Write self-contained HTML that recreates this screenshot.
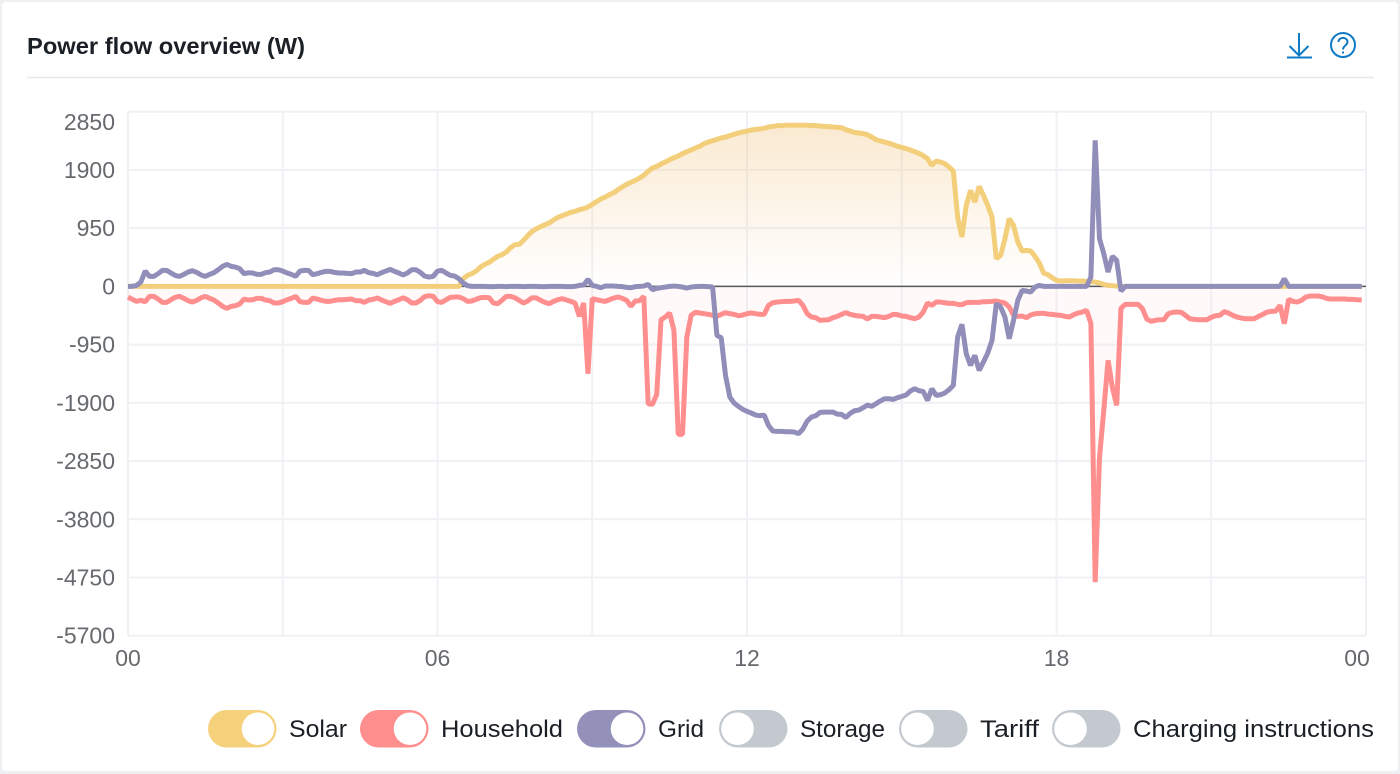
<!DOCTYPE html>
<html lang="en">
<head>
<meta charset="utf-8">
<title>Power flow overview (W)</title>
<style>
html,body{margin:0;padding:0;width:1400px;height:774px;background:#eef0f2;overflow:hidden;font-family:"Liberation Sans",sans-serif;}
#card{position:absolute;left:2px;top:2px;width:1396px;height:769px;background:#fff;border-radius:4px;}
svg{position:absolute;left:0;top:0;}
</style>
</head>
<body>
<div id="card"></div>
<svg id="chart" width="1400" height="774" viewBox="0 0 1400 774">
  <defs>
    <linearGradient id="solarFill" gradientUnits="userSpaceOnUse" x1="0" y1="125" x2="0" y2="286">
      <stop offset="0" stop-color="#f0c078" stop-opacity="0.34"/>
      <stop offset="1" stop-color="#f0c078" stop-opacity="0"/>
    </linearGradient>
    <linearGradient id="householdFill" gradientUnits="userSpaceOnUse" x1="0" y1="286" x2="0" y2="520">
      <stop offset="0" stop-color="#ff8c8c" stop-opacity="0.05"/>
      <stop offset="0.35" stop-color="#ff8c8c" stop-opacity="0.05"/>
      <stop offset="1" stop-color="#ff8c8c" stop-opacity="0"/>
    </linearGradient>
  </defs>
  <text x="27" y="54" font-size="23" font-weight="700" fill="#1b2026" textLength="278" lengthAdjust="spacingAndGlyphs" font-family="Liberation Sans, sans-serif">Power flow overview (W)</text>
  <line x1="27" y1="77.5" x2="1374" y2="77.5" stroke="#e6e8ea" stroke-width="1.5"/>
  <g fill="none" stroke="#0f7ac6" stroke-width="2">
    <path d="M1299 33V55M1289.5 46L1299 55.5L1308.500 46"/>
    <path d="M1287 57.500H1312"/>
  </g>
  <g fill="none" stroke="#0f7ac6" stroke-width="2">
    <circle cx="1343" cy="45" r="12"/>
    <path d="M1338.500 42C1338.500 36.500 1347.500 36.500 1347.500 42C1347.500 45.500 1343 45.500 1343 49.500"/>
    <path d="M1343 51.500V53.500"/>
  </g>
  <g id="grid-layer"></g>
  <g id="axis-layer" font-family="Liberation Sans, sans-serif"></g>
  <g id="series-layer"></g>
  <g id="legend-layer" font-family="Liberation Sans, sans-serif"></g>
</svg>
<script>
const yTickValues = [2850, 1900, 950, 0, -950, -1900, -2850, -3800, -4750, -5700];
const xGridHours = [0, 3, 6, 9, 12, 15, 18, 21, 24];
const xTickHours = [0, 6, 12, 18, 24];
const xTickLabels = ['00', '06', '12', '18', '00'];

const solarValues = [
0,0,0,0,0,0,0,0,0,0, 0,0,0,0,0,0,0,0,0,0,
0,0,0,0,0,0,0,0,0,0, 0,0,0,0,0,0,0,0,0,0,
0,0,0,0,0,0,0,0,0,0, 0,0,0,0,0,0,0,0,0,0,
0,0,0,0,0,0,0,0,0,0, 0,0,0,0,0,0,0,0,125,180,
207,250,315,359,392,441,490,517,560,631,
680,685,751,827,898,941,974,1006,1034,1083,
1126,1153,1180,1208,1224,1251,1268,1295,1338,1382,
1425,1458,1496,1529,1578,1621,1665,1697,1730,1768,
1812,1877,1931,1958,1996,2029,2067,2100,2127,2165,
2198,2225,2258,2285,2328,2355,2377,2399,2421,2437,
2459,2481,2503,2519,2535,2551,2562,2568,2579,2600,
2611,2622,2622,2628,2628,2628,2628,2628,2628,2622,
2622,2617,2611,2606,2600,2595,2589,2557,2535,2513,
2502,2492,2475,2437,2394,2372,2355,2334,2312,2285,
2268,2247,2225,2198,2170,2132,2083,1975,2045,2029,
2002,1948,1882,1132,805,1322,1567,1376,1632,1485,
1322,1132,452,506,778,1104,996,724,577,587,
577,490,381,218,190,141,98,87,92,92,
92,87,87,82,76,71,54,33,16,11,
5,0,0,0,0,0,0,0,0,0,
0,0,0,0,0,0,0,0,0,0, 0,0,0,0,0,0,0,0,0,0,
0,0,0,0,0,0,0,0,0,0, 0,0,0,0,0,0,0,0,0,0,
0,0,0,0,0,0,0,0
];

const householdValues = [
-174,-212,-245,-228,-250,-163,-163,-207,-261,-261,
-218,-179,-163,-196,-234,-256,-228,-185,-163,-196,
-223,-272,-326,-359,-326,-315,-288,-207,-223,-218,
-196,-196,-223,-234,-272,-272,-250,-218,-196,-163,
-250,-261,-261,-190,-207,-228,-245,-245,-228,-218,
-218,-212,-207,-234,-234,-261,-223,-212,-190,-223,
-250,-277,-245,-218,-185,-218,-272,-272,-228,-168,
-152,-163,-250,-261,-218,-179,-174,-174,-201,-245,
-239,-212,-185,-180,-185,-272,-283,-228,-163,-163,
-185,-228,-272,-239,-185,-190,-228,-261,-283,-245,
-218,-201,-223,-245,-272,-490,-272,-1425,-201,-218,
-234,-245,-218,-190,-174,-196,-228,-326,-239,-234,
-163,-1915,-1926,-1763,-544,-500,-435,-718,-2415,-2415,
-827,-473,-424,-435,-446,-457,-473,-490,-457,-430,
-446,-457,-479,-468,-446,-435,-446,-457,-457,-310,
-267,-256,-250,-245,-245,-239,-228,-310,-446,-500,
-511,-555,-549,-544,-511,-490,-457,-430,-457,-473,
-484,-490,-533,-490,-490,-500,-511,-490,-457,-462,
-484,-490,-511,-528,-500,-419,-272,-310,-256,-256,
-267,-277,-277,-294,-299,-267,-261,-261,-261,-250,
-250,-245,-239,-256,-272,-337,-473,-490,-484,-511,
-468,-446,-441,-441,-452,-457,-468,-473,-490,-500,
-462,-435,-419,-392,-604,-4826,-2790,-2024,-1208,-1648,
-1942,-359,-294,-294,-294,-294,-364,-533,-571,-555,
-544,-544,-446,-424,-419,-424,-473,-528,-539,-544,
-544,-544,-506,-479,-473,-413,-435,-473,-500,-517,
-528,-528,-528,-490,-457,-419,-408,-403,-310,-609,
-212,-245,-256,-228,-174,-158,-158,-158,-174,-201,
-207,-207,-207,-207,-212,-212,-218,-223
];

const gridValues = [
0,0,16,71,250,163,163,207,261,261,
218,179,163,196,234,256,228,185,163,196,
223,272,326,359,326,315,288,207,223,218,
196,196,223,234,272,272,250,218,196,163,
250,261,261,190,207,228,245,245,228,218,
218,212,207,234,234,261,223,212,190,223,
250,277,245,218,185,218,272,272,228,168,
152,163,250,261,218,179,168,125,54,11,
0,0,0,0,-5,-5,0,0,-5,0,
0,0,-5,0,0,0,-5,-5,0,0,
0,0,-5,-5,0,16,22,114,16,0,
-22,5,5,5,0,-5,-16,-22,-5,0,
5,33,-54,-33,-22,-11,0,5,0,-11,
-27,-11,-5,0,0,-5,-11,-800,-838,-1452,
-1806,-1904,-1958,-2007,-2040,-2067,-2100,-2111,-2100,-2268,
-2361,-2366,-2366,-2372,-2372,-2377,-2404,-2328,-2198,-2132,
-2111,-2056,-2051,-2051,-2051,-2084,-2089,-2138,-2073,-2029,
-2018,-1980,-1937,-1958,-1915,-1871,-1833,-1833,-1844,-1817,
-1795,-1773,-1708,-1670,-1703,-1714,-1860,-1670,-1779,-1768,
-1741,-1686,-1616,-827,-620,-1099,-1289,-1126,-1371,-1235,
-1088,-881,-283,-337,-500,-854,-555,-228,-65,-76,
-92,-11,16,0,0,0,0,0,0,0,
0,0,0,0,152,2383,778,533,234,490,
424,-76,0,0,0,0,0,0,0,0,
0,0,0,0,0,0,0,0,0,0,
0,0,0,0,0,0,0,0,0,0,
0,0,0,0,0,0,0,0,0,125,
0,0,0,0,0,0,0,0,0,0,
0,0,0,0,0,0,0,0
];

const legendLabels = ['Solar', 'Household', 'Grid', 'Storage', 'Tariff', 'Charging instructions'];
const legendActive = [true, true, true, false, false, false];

const NS = 'http://www.w3.org/2000/svg';
const plotLeft = 128, plotRight = 1366, plotTop = 111.7, plotBottom = 635.7;
const yMax = 2850, yMin = -5700, stepMinutes = 5;

function xHour(h) { return plotLeft + (h / 24) * (plotRight - plotLeft); }
function xIndex(i) { return xHour(i * stepMinutes / 60); }
function yValue(v) { return plotTop + (yMax - v) / (yMax - yMin) * (plotBottom - plotTop); }
function linePath(values) {
  return values.map(function (v, i) {
    return (i ? 'L' : 'M') + xIndex(i).toFixed(2) + ' ' + yValue(v).toFixed(2);
  }).join('');
}
function areaPath(values) {
  return linePath(values) + 'L' + xIndex(values.length - 1).toFixed(2) + ' ' + yValue(0).toFixed(2) +
    'L' + xIndex(0).toFixed(2) + ' ' + yValue(0).toFixed(2) + 'Z';
}
function make(parent, tag, attrs) {
  const el = document.createElementNS(NS, tag);
  Object.keys(attrs).forEach(function (k) { el.setAttribute(k, attrs[k]); });
  parent.appendChild(el);
  return el;
}

const gridLayer = document.getElementById('grid-layer');
const axisLayer = document.getElementById('axis-layer');
const seriesLayer = document.getElementById('series-layer');
const legendLayer = document.getElementById('legend-layer');

yTickValues.forEach(function (v) {
  const gl = make(gridLayer, 'line', {x1: plotLeft, x2: plotRight, y1: yValue(v), y2: yValue(v), stroke: '#f0f1f4', 'stroke-width': 2});
  
  
  const label = make(axisLayer, 'text', {x: 115, y: Math.max(yValue(v), 122) + 8, 'text-anchor': 'end', 'font-size': 23, fill: '#666a6e'});
  
  
  label.textContent = String(v);
});
xGridHours.forEach(function (h) {
  const gl = make(gridLayer, 'line', {x1: xHour(h), x2: xHour(h), y1: plotTop, y2: plotBottom, stroke: '#f0f1f4', 'stroke-width': 2});
  
  
});
xTickHours.forEach(function (h, i) {
  const label = make(axisLayer, 'text', {x: Math.min(xHour(h), 1357), y: 666, 'text-anchor': 'middle', 'font-size': 23, fill: '#666a6e'});
  
  
  label.textContent = xTickLabels[i];
});

const zeroLine = make(seriesLayer, 'line', {x1: plotLeft, x2: plotRight, y1: yValue(0), y2: yValue(0), stroke: '#55585c', 'stroke-width': 1.6});



const solarArea = make(seriesLayer, 'path', {d: areaPath(solarValues), fill: 'url(#solarFill)'});


const householdArea = make(seriesLayer, 'path', {d: areaPath(householdValues), fill: 'url(#householdFill)'});



const solarLine = make(seriesLayer, 'path', {d: linePath(solarValues), fill: 'none', stroke: '#f3cf7c', 'stroke-width': 5, 'stroke-linejoin': 'bevel'});


const householdLine = make(seriesLayer, 'path', {d: linePath(householdValues), fill: 'none', stroke: '#ff8e8e', 'stroke-width': 5, 'stroke-linejoin': 'bevel'});


const gridLine = make(seriesLayer, 'path', {d: linePath(gridValues), fill: 'none', stroke: '#918eba', 'stroke-width': 5, 'stroke-linejoin': 'bevel'});



const legendStarts = [208, 360, 577, 719, 899, 1052];
const legendWidths = [58, 122, 46, 85, 59, 241];
const legendColors = ['#f5d17c', '#ff8e8e', '#9390ba', '#c3c9ce', '#c3c9ce', '#c3c9ce'];
legendLabels.forEach(function (name, i) {
  const x = legendStarts[i];
  const item = make(legendLayer, 'g', {});
  
  
  make(item, 'rect', {x: x, y: 710, width: 68.500, height: 37.500, rx: 18.750, fill: legendColors[i]});
  make(item, 'circle', {cx: legendActive[i] ? x + 50 : x + 18.500, cy: 728.750, r: 16.300, fill: '#fff'});
  const t = make(item, 'text', {x: x + 81, y: 737, 'font-size': 24, fill: '#1b2026', textLength: legendWidths[i], lengthAdjust: 'spacingAndGlyphs'});
  t.textContent = name;
});
</script>
</body>
</html>
